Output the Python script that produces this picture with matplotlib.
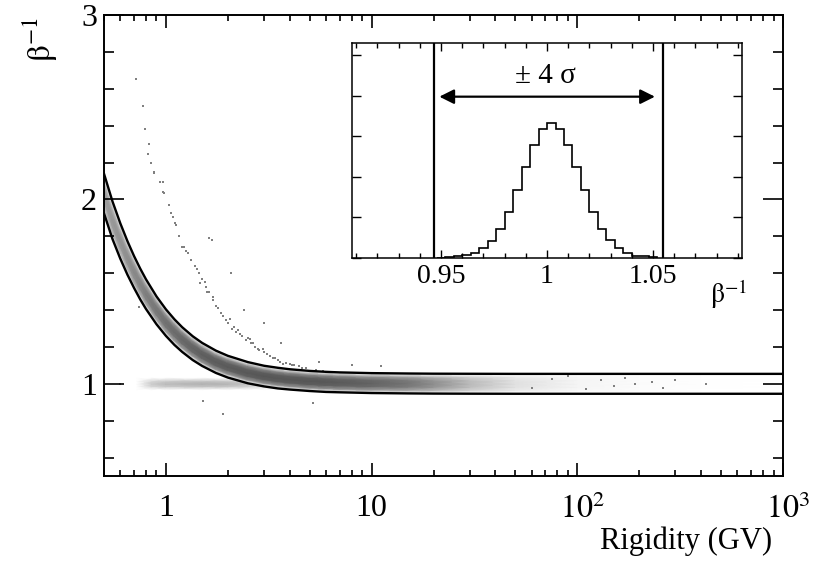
import numpy as np
import matplotlib
matplotlib.use("Agg")
from matplotlib import pyplot as plt
from matplotlib.colors import LinearSegmentedColormap
from matplotlib.transforms import ScaledTranslation
from matplotlib.ticker import LogLocator, MultipleLocator, NullFormatter, FixedLocator

plt.rcParams['font.family'] = ['Liberation Serif', 'DejaVu Serif']
plt.rcParams['mathtext.fontset'] = 'stix'

# --- main panel: rigidity grid, +-4 sigma cut lines and band centre
rig = [0.5, 0.55, 0.6, 0.65, 0.7, 0.75, 0.8, 0.9, 1.0, 1.1, 1.2, 1.35, 1.5, 1.75, 2, 2.5,
       3, 3.5, 4, 5, 6, 7, 10, 15, 20, 30, 50, 100, 200, 400, 1000]
cut_hi = [2.14, 1.989, 1.871, 1.774, 1.693, 1.625, 1.567, 1.474, 1.404, 1.350, 1.307, 1.258,
          1.222, 1.180, 1.152, 1.118, 1.098, 1.087, 1.079, 1.070, 1.065, 1.062, 1.058, 1.056,
          1.055, 1.0545, 1.054, 1.054, 1.054, 1.054, 1.054]
cut_lo = [1.925, 1.785, 1.679, 1.592, 1.520, 1.458, 1.406, 1.323, 1.260, 1.211, 1.173, 1.129,
          1.097, 1.059, 1.034, 1.003, 0.986, 0.975, 0.969, 0.961, 0.956, 0.954, 0.950, 0.948,
          0.947, 0.9464, 0.946, 0.946, 0.946, 0.946, 0.946]
band_c = [2.03, 1.887, 1.775, 1.683, 1.606, 1.542, 1.487, 1.399, 1.332, 1.281, 1.240, 1.194,
          1.159, 1.119, 1.093, 1.060, 1.042, 1.031, 1.024, 1.015, 1.011, 1.008, 1.004, 1.002,
          1.001, 1.001, 1.001, 1.001, 1.001, 1.001, 1.001]
# how dark the proton band looks at each grid point
band_dens = [0.45, 0.48, 0.5, 0.52, 0.55, 0.57, 0.6, 0.63, 0.66, 0.68, 0.7, 0.72, 0.74,
             0.75, 0.76, 0.77, 0.78, 0.78, 0.78, 0.78, 0.77, 0.76, 0.72, 0.64, 0.52, 0.32,
             0.14, 0.05, 0.02, 0.005, 0.0]
# profile across the band (relative offset from centre, share of the density)
band_off = [-0.048, -0.036, -0.018, 0.0, 0.018, 0.036, 0.048]
band_prof = [0.15, 0.65, 0.95, 1.0, 0.95, 0.65, 0.15]

# electron streak near beta^-1 = 1
ele_R = [0.72, 0.85, 1.0, 1.5, 2.0, 2.5, 3.0, 4.0]
ele_b = [0.968, 0.985, 1.0, 1.015, 1.032]
ele_dens = [0.0, 0.24, 0.32, 0.36, 0.34, 0.28, 0.16, 0.0]
ele_prof = [0.0, 0.75, 1.0, 0.75, 0.0]

# heavier particles (second curve) and stray events
sec_R = [0.715, 0.776, 0.79, 0.814, 0.83, 0.85, 0.877, 0.88, 0.94, 0.963, 0.97, 0.98, 1.03,
         1.053, 1.077, 1.11, 1.118, 1.16, 1.204, 1.223, 1.25, 1.32, 1.323, 1.38, 1.45, 1.47,
         1.5, 1.565, 1.59, 1.62, 1.685, 1.75, 1.85, 1.9, 1.96, 2.0, 2.1, 2.19, 2.25, 2.3, 2.45,
         2.55, 2.6, 2.7, 2.84, 2.95, 3.0, 3.1, 3.3, 3.5, 3.6, 3.83, 4.0, 4.2, 4.45, 4.8, 5.36, 5.8,
         1.28, 1.42, 1.55, 1.7, 1.8, 2.05, 2.15, 2.35, 2.5, 2.65, 2.8, 3.2, 3.4, 3.7, 4.1, 4.6]
sec_b = [2.651, 2.507, 2.38, 2.247, 2.30, 2.20, 2.147, 2.145, 2.096, 2.096, 2.042, 2.035, 1.97,
         1.925, 1.907, 1.871, 1.862, 1.80, 1.744, 1.744, 1.72, 1.672, 1.672, 1.64, 1.6, 1.546,
         1.57, 1.527, 1.5, 1.50, 1.455, 1.42, 1.383, 1.37, 1.347, 1.33, 1.30, 1.283, 1.29, 1.27,
         1.238, 1.245, 1.22, 1.20, 1.184, 1.19, 1.17, 1.16, 1.139, 1.13, 1.12, 1.112, 1.105,
         1.10, 1.094, 1.088, 1.076, 1.072,
         1.71, 1.62, 1.55, 1.47, 1.41, 1.35, 1.31, 1.26, 1.25, 1.22, 1.19, 1.15, 1.14, 1.11,
         1.10, 1.085]
odd_R = [0.74, 1.52, 1.9, 5.17, 1.62, 2.07, 3.0, 3.62, 5.57, 11.1, 1.68, 0.6, 2.4, 8.0,
         90, 110, 130, 150, 170, 190, 230, 260, 300, 420, 60, 75]
odd_b = [1.419, 0.909, 0.836, 0.895, 1.79, 1.6, 1.329, 1.22, 1.121, 1.094, 1.78, 1.0, 1.40, 1.10,
         1.04, 0.97, 1.02, 0.99, 1.03, 1.0, 1.01, 0.98, 1.02, 1.0, 0.975, 1.025]

# --- inset: beta^-1 distribution
hist_edges = [0.948 + 0.004 * i for i in range(27)]
hist_counts = [8, 25, 50, 65, 135, 245, 430, 725, 1135, 1665, 2240, 2795, 3185, 3325, 3185,
               2795, 2240, 1665, 1135, 725, 435, 245, 125, 60, 40, 15]
cut_x = [0.9468, 1.0548]

dots = LinearSegmentedColormap.from_list('dots', ['white', (0.15, 0.15, 0.15)])

fig = plt.figure(figsize=(8.2, 5.69), dpi=100)
ax = fig.add_axes([0.1268, 0.1634, 0.8281, 0.8102])

X = np.tile(ele_R, (len(ele_b), 1))
Y = np.tile(np.array(ele_b)[:, None], (1, len(ele_R)))
ax.pcolormesh(X, Y, np.outer(ele_prof, ele_dens), shading='gouraud', cmap=dots,
              vmin=0, vmax=1, antialiased=False)

X = np.tile(rig, (len(band_off), 1))
Y = np.outer(1 + np.array(band_off), band_c)
ax.pcolormesh(X, Y, np.outer(band_prof, band_dens), shading='gouraud', cmap=dots,
              vmin=0, vmax=1, antialiased=False)

ax.scatter(sec_R, sec_b, s=1.8, c='0.5', marker='s', lw=0)
ax.scatter(odd_R, odd_b, s=1.8, c='0.5', marker='s', lw=0)

ax.plot(rig, cut_hi, color='black', lw=1.7)
ax.plot(rig, cut_lo, color='black', lw=1.7)

ax.set_xscale('log')
ax.set_xlim(0.5, 1000)
ax.set_ylim(0.5, 3)
ax.xaxis.set_major_locator(FixedLocator([1, 10, 100, 1000]))
ax.set_xticklabels(['1', '10', '$10^{2}$', '$10^{3}$'])
ax.xaxis.set_minor_locator(LogLocator(base=10, subs=range(2, 10), numticks=20))
ax.xaxis.set_minor_formatter(NullFormatter())
ax.set_yticks([1, 2, 3])
ax.yaxis.set_minor_locator(MultipleLocator(0.2))
ax.tick_params(which='both', direction='in', top=True, right=True, width=1.2, labelsize=23)
ax.tick_params(axis='x', which='major', length=9.4, pad=13)
ax.tick_params(axis='x', which='minor', length=4.3)
ax.tick_params(axis='y', which='major', length=14.4, pad=5)
ax.tick_params(axis='y', which='minor', length=7.2)
for sp in ax.spines.values():
    sp.set_linewidth(1.4)
# powers of ten sit a little right of their tick, as in the original
shift = ScaledTranslation(5 / 100, 0, fig.dpi_scale_trans)
for lab in ax.get_xticklabels()[2:]:
    lab.set_transform(lab.get_transform() + shift)

fig.text(772 / 820, 1 - 541 / 569, 'Rigidity (GV)', ha='right', va='center', fontsize=22)
fig.text(40 / 820, 1 - 18 / 569, r'$\mathrm{\beta}^{-1}$', rotation=90, ha='center', va='top',
         fontsize=24)

# inset
ins = fig.add_axes([0.4293, 0.5466, 0.4756, 0.3784])
ins.stairs(hist_counts, hist_edges, color='black', lw=1.2)
for xc in cut_x:
    ins.axvline(xc, color='black', lw=1.6)
ins.annotate('', xy=(0.9492, 3973), xytext=(1.0509, 3973),
             arrowprops=dict(arrowstyle='<|-|>', color='black', lw=1.6, mutation_scale=22,
                             shrinkA=0, shrinkB=0))
ins.text(0.9993, 4483, '± 4 σ', ha='center', va='center', fontsize=21)
ins.set_xlim(0.908, 1.092)
ins.set_ylim(0, 5303)
ins.set_xticks([0.95, 1.0, 1.05])
ins.set_xticklabels(['0.95', '1', '1.05'])
ins.xaxis.set_minor_locator(MultipleLocator(0.01))
ins.yaxis.set_major_locator(MultipleLocator(1000))
ins.yaxis.set_major_formatter(NullFormatter())
ins.tick_params(which='both', direction='in', top=True, right=True, width=1.0, labelsize=20)
ins.tick_params(axis='x', which='major', length=5.8, pad=4)
ins.tick_params(axis='x', which='minor', length=3.6)
ins.tick_params(axis='y', length=6.5)
for sp in ins.spines.values():
    sp.set_linewidth(1.1)
fig.text(710 / 820, 1 - 303 / 569, r'$\mathrm{\beta}^{-1}$', ha='left', va='baseline',
         fontsize=20)

fig.savefig('out.png', dpi=100)
